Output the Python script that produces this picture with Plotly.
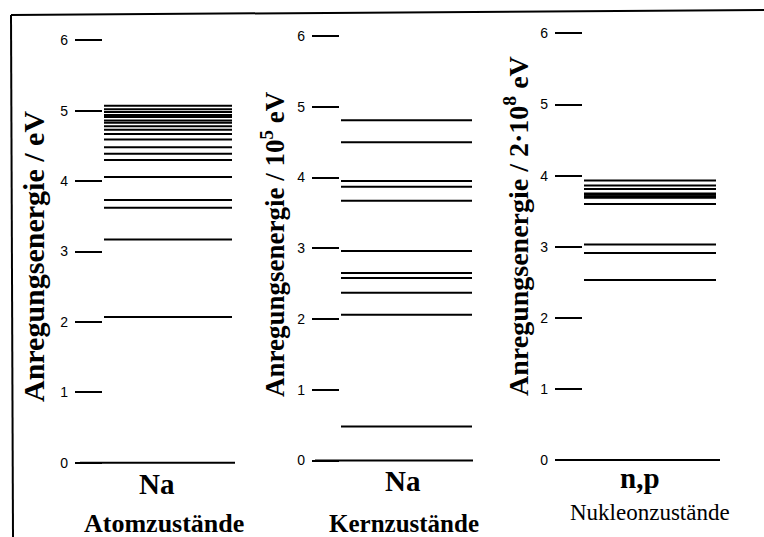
import plotly.graph_objects as go

W, H = 764, 537

# ---------------- data ----------------
tick_values = [0, 1, 2, 3, 4, 5, 6]
tick_labels = ["0", "1", "2", "3", "4", "5", "6"]

atom_levels = [2.07, 3.17, 3.62, 3.73, 4.06, 4.30, 4.39, 4.48, 4.59, 4.67,
               4.73, 4.78, 4.83, 4.86, 4.91, 4.94, 4.98, 5.02, 5.07]
kern_levels = [0.48, 2.06, 2.37, 2.58, 2.65, 2.96, 3.67, 3.87, 3.95, 4.50, 4.81]
nukleon_levels = [2.53, 2.91, 3.03, 3.60, 3.69, 3.71, 3.73, 3.75, 3.81, 3.86, 3.93]
ground_level = 0

panel_titles = ["Anregungsenergie / eV",
                "Anregungsenergie / 10<sup>5</sup> eV",
                "Anregungsenergie / 2·10<sup>8</sup> eV"]
panel_systems = ["Na", "Na", "n,p"]
panel_kinds = ["Atomzustände", "Kernzustände", "Nukleonzustände"]

# ---------------- layout geometry (pixels) ----------------
panels = [
    dict(ax=75, right=240, y0=462.7, ppu=70.4, lx=(104, 232), gx=(80, 235)),
    dict(ax=312, right=480, y0=460.5, ppu=70.75, lx=(341, 472), gx=(315, 473)),
    dict(ax=555, right=725, y0=460.0, ppu=71.1, lx=(584, 716), gx=(557, 720)),
]
level_sets = [atom_levels, kern_levels, nukleon_levels]

fig = go.Figure()
layout = dict(width=W, height=H, margin=dict(l=0, r=0, t=0, b=0),
              paper_bgcolor="white", plot_bgcolor="white", showlegend=False)

for i, (p, levels) in enumerate(zip(panels, level_sets)):
    n = "" if i == 0 else str(i + 1)
    span = p["right"] - p["ax"]
    tox = lambda px, p=p, span=span: (px - p["ax"]) / span
    xs, ys = [], []
    xs += [tox(p["gx"][0]), tox(p["gx"][1]), None]
    ys += [ground_level, ground_level, None]
    for e in levels:
        xs += [tox(p["lx"][0]), tox(p["lx"][1]), None]
        ys += [e, e, None]
    fig.add_trace(go.Scatter(x=xs, y=ys, mode="lines",
                             line=dict(color="black", width=2),
                             xaxis="x" + n, yaxis="y" + n, hoverinfo="skip"))
    top = p["y0"] / p["ppu"]
    bottom = (p["y0"] - H) / p["ppu"]
    layout["xaxis" + n] = dict(domain=[p["ax"] / W, p["right"] / W], range=[0, 1],
                               visible=False, anchor="y" + n, fixedrange=True)
    layout["yaxis" + n] = dict(domain=[0, 1], range=[bottom, top], anchor="x" + n,
                               tickvals=tick_values, ticktext=tick_labels,
                               ticks="inside", ticklen=27, tickwidth=2, tickcolor="black",
                               showgrid=False, zeroline=False, showline=False,
                               ticklabelstandoff=6, fixedrange=True,
                               tickfont=dict(family="Liberation Sans", size=14, color="black"))

fig.update_layout(**layout)

serif = "Liberation Serif"
title_pos = [(33, 257), (273, 244), (516, 226)]
title_size = [30, 27, 28]
sys_pos = [(157, 484), (403, 481), (640, 478)]
kind_pos = [(164, 523), (404, 523), (650, 512)]
kind_fmt = [("<b>%s</b>", 26), ("<b>%s</b>", 25), ("%s", 23)]

for i in range(3):
    tx, ty = title_pos[i]
    fig.add_annotation(text="<b>%s</b>" % panel_titles[i], xref="paper", yref="paper",
                       x=tx / W, y=1 - ty / H, xanchor="center", yanchor="middle",
                       textangle=-90, showarrow=False,
                       font=dict(family=serif, size=title_size[i], color="black"))
    sx, sy = sys_pos[i]
    fig.add_annotation(text="<b>%s</b>" % panel_systems[i], xref="paper", yref="paper",
                       x=sx / W, y=1 - sy / H, xanchor="center", yanchor="middle",
                       showarrow=False, font=dict(family=serif, size=29, color="black"))
    kx, ky = kind_pos[i]
    fmt, sz = kind_fmt[i]
    fig.add_annotation(text=fmt % panel_kinds[i], xref="paper", yref="paper",
                       x=kx / W, y=1 - ky / H, xanchor="center", yanchor="middle",
                       showarrow=False, font=dict(family=serif, size=sz, color="black"))

# frame (top and left border of the scanned figure)
fig.add_shape(type="line", xref="paper", yref="paper",
              x0=11 / W, y0=1 - 15 / H, x1=1, y1=1 - 10 / H,
              line=dict(color="black", width=2))
fig.add_shape(type="line", xref="paper", yref="paper",
              x0=11 / W, y0=1 - 15 / H, x1=13 / W, y1=0,
              line=dict(color="black", width=2))

fig.write_html("out.html", config={"displayModeBar": False},
               post_script="document.body.style.margin='0';document.body.style.overflow='hidden';")
